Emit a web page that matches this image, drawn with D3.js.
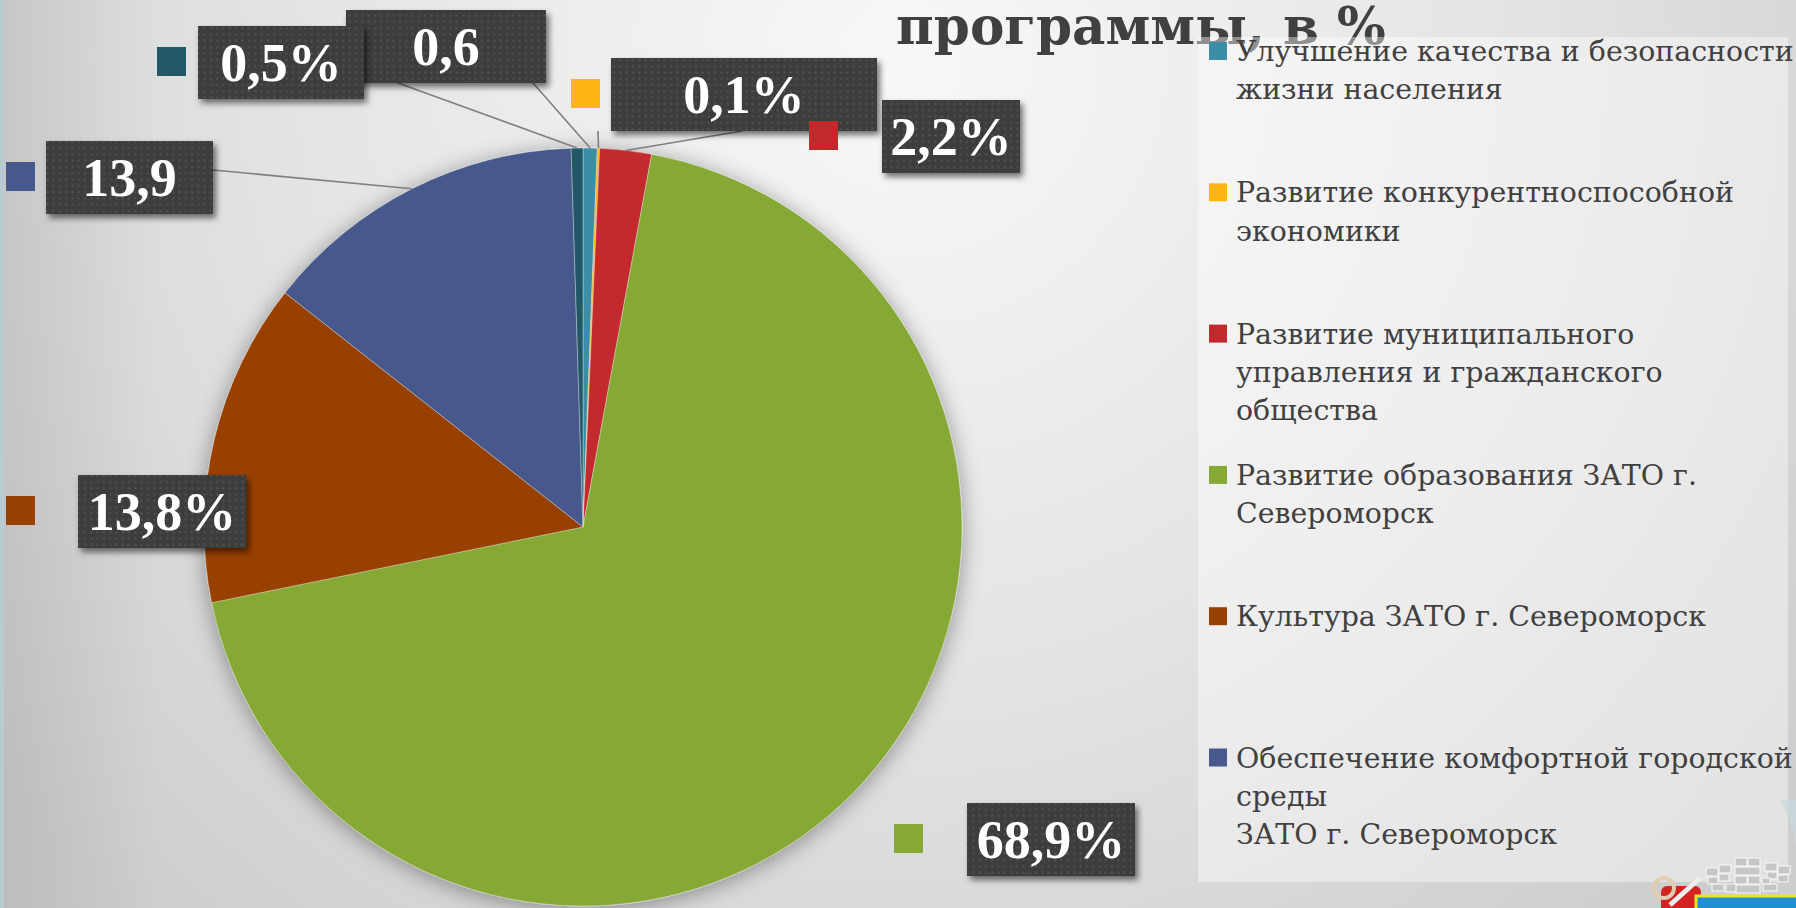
<!DOCTYPE html>
<html><head><meta charset="utf-8">
<script src="https://cdn.jsdelivr.net/npm/d3@7"></script>
<style>html,body{margin:0;padding:0;overflow:hidden;background:#e0e0e0}</style>
</head><body>
<svg id="c" width="1796" height="908"></svg>
<script>
// ---------- data ----------
const categories = [
  "Улучшение качества и безопасности жизни населения",
  "Развитие конкурентноспособной экономики",
  "Развитие муниципального управления и гражданского общества",
  "Развитие образования ЗАТО г. Североморск",
  "Культура ЗАТО г. Североморск",
  "Обеспечение комфортной городской среды ЗАТО г. Североморск",
  "Прочие"
];
const values = [0.6, 0.1, 2.2, 68.9, 13.8, 13.9, 0.5];
const labelTexts = ["0,6", "0,1%", "2,2%", "68,9%", "13,8%", "13,9", "0,5%"];
const legendLines = [
  ["Улучшение качества и безопасности", "жизни населения"],
  ["Развитие конкурентноспособной", "экономики"],
  ["Развитие муниципального", "управления и гражданского", "общества"],
  ["Развитие образования ЗАТО г.", "Североморск"],
  ["Культура ЗАТО г. Североморск"],
  ["Обеспечение комфортной городской", "среды", "ЗАТО г. Североморск"]
];
const titleText = "программы, в %";

// ---------- styles / layout ----------
const colors = ["#3a8ea6", "#fdb515", "#c2292d", "#86a935", "#984104", "#47598c", "#215966"];
const W = 1796, H = 908;
const cx = 583, cy = 527, R = 379;
// label boxes: [boxX, boxY, boxW, boxH, markerX, anchorX, anchorY]
const labelLayout = [
  [346, 10, 200, 73, 306, 533, 83],
  [611, 58, 266, 73, 571, 598, 131],
  [882, 100, 138, 73, 809, 742, 131],
  [967, 803, 168, 73, 894, null, null],
  [78, 475, 168, 73, 6, null, null],
  [46, 141, 167, 73, 6, 213, 170],
  [198, 26, 166, 73, 157, 398, 83]
];
const drawOrder = [0, 6, 1, 2, 3, 4, 5];

const svg = d3.select("#c");
const defs = svg.append("defs");

// background gradient
const bg = defs.append("radialGradient").attr("id", "bg")
  .attr("gradientUnits", "userSpaceOnUse").attr("cx", 900).attr("cy", 60).attr("r", 1150);
bg.append("stop").attr("offset", 0).attr("stop-color", "#f8f8f8");
bg.append("stop").attr("offset", 0.55).attr("stop-color", "#e3e3e3");
bg.append("stop").attr("offset", 1).attr("stop-color", "#cdcdcd");

const leftShade = defs.append("linearGradient").attr("id", "ls").attr("x1", 0).attr("x2", 1);
leftShade.append("stop").attr("offset", 0).attr("stop-color", "#000").attr("stop-opacity", 0.08);
leftShade.append("stop").attr("offset", 1).attr("stop-color", "#000").attr("stop-opacity", 0);

// pie shadow
const pf = defs.append("filter").attr("id", "pieShadow")
  .attr("x", "-20%").attr("y", "-20%").attr("width", "140%").attr("height", "140%");
pf.append("feDropShadow").attr("dx", 0).attr("dy", 3).attr("stdDeviation", 11)
  .attr("flood-color", "#000").attr("flood-opacity", 0.38);

// box shadow
const bf = defs.append("filter").attr("id", "boxShadow")
  .attr("x", "-20%").attr("y", "-30%").attr("width", "150%").attr("height", "170%");
bf.append("feDropShadow").attr("dx", 3).attr("dy", 4).attr("stdDeviation", 3)
  .attr("flood-color", "#000").attr("flood-opacity", 0.55);

// dotted pattern for label boxes
const pat = defs.append("pattern").attr("id", "dots").attr("patternUnits", "userSpaceOnUse")
  .attr("width", 6.3).attr("height", 6.3);
pat.append("rect").attr("width", 6.3).attr("height", 6.3).attr("fill", "#3e3e3e");
pat.append("rect").attr("x", 2.3).attr("y", 2.3).attr("width", 1.6).attr("height", 1.6).attr("fill", "#5a5a5a");

svg.append("rect").attr("width", W).attr("height", H).attr("fill", "url(#bg)");
svg.append("rect").attr("width", 160).attr("height", H).attr("fill", "url(#ls)");
svg.append("rect").attr("x", 0).attr("y", 0).attr("width", 4).attr("height", H).attr("fill", "#b8cad2");

// ---------- title ----------
const title = svg.append("text").text(titleText)
  .attr("x", 896).attr("y", 44)
  .attr("font-family", "DejaVu Serif").attr("font-weight", "bold")
  .attr("font-size", 100).attr("fill", "#404040");
{
  const len = title.node().getComputedTextLength();
  title.attr("font-size", 100 * 490 / len);
}

// ---------- pie ----------
const pie = d3.pie().sort(null).value(d => d).startAngle(0).endAngle(2 * Math.PI);
const arcs = pie(values);
const arc = d3.arc().innerRadius(0).outerRadius(R);
const edge = d3.arc().innerRadius(R).outerRadius(R);

const pg = svg.append("g").attr("transform", `translate(${cx},${cy})`).attr("filter", "url(#pieShadow)");
pg.selectAll("path").data(arcs).join("path")
  .attr("d", arc)
  .attr("fill", (d, i) => colors[i])
  .attr("stroke", "#f2f2f2").attr("stroke-width", 0.6).attr("stroke-opacity", 0.6);

// ---------- leader lines ----------
const lg = svg.append("g");
arcs.forEach((d, i) => {
  const L = labelLayout[i];
  if (L[5] === null) return;
  const p = edge.centroid(d);
  lg.append("line")
    .attr("x1", L[5]).attr("y1", L[6])
    .attr("x2", cx + p[0]).attr("y2", cy + p[1])
    .attr("stroke", "#7f7f7f").attr("stroke-width", 1.6);
});

// ---------- data labels ----------
const dl = svg.append("g");
drawOrder.forEach(i => {
  const L = labelLayout[i];
  const g = dl.append("g");
  g.append("rect").attr("x", L[4]).attr("y", L[1] + L[3] / 2 - 15.5)
    .attr("width", 29).attr("height", 29).attr("fill", colors[i]);
  g.append("rect").attr("x", L[0]).attr("y", L[1]).attr("width", L[2]).attr("height", L[3])
    .attr("fill", "url(#dots)").attr("filter", "url(#boxShadow)");
  g.append("text").text(labelTexts[i])
    .attr("x", L[0] + L[2] / 2).attr("y", L[1] + L[3] / 2 + 18.5)
    .attr("text-anchor", "middle")
    .attr("font-family", "Liberation Serif").attr("font-weight", "bold")
    .attr("font-size", 54).attr("fill", "#ffffff");
});

// ---------- legend ----------
svg.append("rect").attr("x", 1198).attr("y", 37).attr("width", 590).attr("height", 845)
  .attr("fill", "#ffffff").attr("fill-opacity", 0.42);

const leg = svg.append("g");
const probe = leg.append("text").text(legendLines[1][0])
  .attr("font-family", "DejaVu Serif").attr("font-size", 100);
const legSize = 100 * 498 / probe.node().getComputedTextLength();
probe.remove();

const legY0 = 61, legStep = 141.3, lineH = 38.2;
legendLines.forEach((lines, i) => {
  const by = legY0 + i * legStep;
  leg.append("rect").attr("x", 1209).attr("y", by - 19).attr("width", 18).attr("height", 18)
    .attr("fill", colors[i]);
  const t = leg.append("text").attr("x", 1236).attr("y", by)
    .attr("font-family", "DejaVu Serif").attr("font-size", legSize).attr("fill", "#404040");
  lines.forEach((ln, k) => {
    t.append("tspan").attr("x", 1236).attr("y", by + k * lineH).text(ln);
  });
});

// ---------- coat of arms fragment (bottom right) ----------
const logo = svg.append("g");
logo.append("path").attr("d", "M1780,800 Q1800,830 1796,880 L1796,800 Z").attr("fill", "#c9d8de").attr("opacity", 0.7);
logo.append("rect").attr("x", 1661).attr("y", 886).attr("width", 40).attr("height", 30).attr("rx", 6).attr("fill", "#d42323");
logo.append("circle").attr("cx", 1664).attr("cy", 888).attr("r", 10).attr("fill", "none")
  .attr("stroke", "#e2cdb0").attr("stroke-width", 4);
logo.append("line").attr("x1", 1670).attr("y1", 905).attr("x2", 1700).attr("y2", 878)
  .attr("stroke", "#eeeeee").attr("stroke-width", 5);
const bricks = [
  [1706, 868, 12, 8], [1719, 865, 12, 8], [1708, 877, 10, 7], [1719, 874, 10, 7], [1712, 884, 12, 7],
  [1735, 858, 12, 8], [1748, 858, 12, 8], [1735, 867, 25, 8], [1735, 876, 12, 8], [1748, 876, 12, 8], [1735, 885, 25, 8],
  [1765, 863, 12, 8], [1778, 866, 12, 8], [1767, 872, 10, 7], [1778, 875, 10, 7], [1763, 884, 14, 7], [1726, 884, 10, 8], [1762, 878, 8, 6]
];
logo.selectAll("rect.b").data(bricks).join("rect").attr("class", "b")
  .attr("x", d => d[0]).attr("y", d => d[1]).attr("width", d => d[2]).attr("height", d => d[3])
  .attr("fill", "#c6c6c6").attr("stroke", "#f4f4f4").attr("stroke-width", 1.2);
logo.append("rect").attr("x", 1696).attr("y", 896).attr("width", 104).attr("height", 20)
  .attr("fill", "#1f8fd2").attr("stroke", "#e8e62a").attr("stroke-width", 3);
</script>
</body></html>
